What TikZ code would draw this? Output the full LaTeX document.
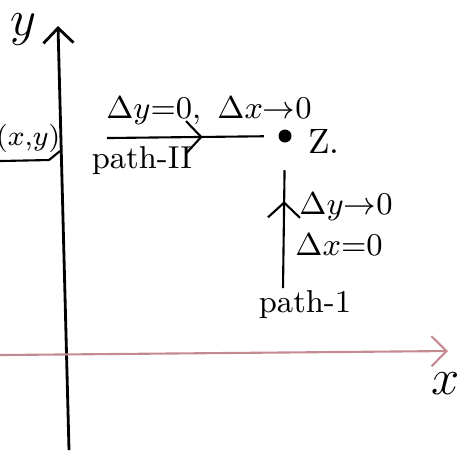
\documentclass[tikz,border=0pt]{standalone}
\usepackage{amsmath, amssymb}
\usepackage{xcolor}
\definecolor{axisPink}{HTML}{C48A92}
\usepackage{tikz}
\usetikzlibrary{arrows.meta, positioning, decorations.markings}

\begin{document}
\begin{tikzpicture}[
  x=0.01cm, y=-0.01cm,
  axis/.style={thick, -{Straight Barb[length=1.5mm, width=3mm]}},
  pathline/.style={semithick, postaction={decorate},
    decoration={markings, mark=at position #1 with {\arrow{Straight Barb[length=1.5mm, width=3.2mm]}}}},
  pt/.style={circle, fill, inner sep=0pt, minimum size=1.3mm},
  lbl/.style={inner sep=1pt, font=\small},
]
  \useasboundingbox (0,0) rectangle (462,450);

  % axes
  \coordinate (ybot) at (69,450);
  \coordinate (ytop) at (58,26);
  \coordinate (xleft) at (0,355);
  \coordinate (xright) at (448,351);
  \draw[axis] (ybot) -- (ytop);
  \draw[axis, semithick, draw=axisPink] (xleft) -- (xright);
  \node[lbl, font=\Large] (ylab) at (23,30) {$y$};
  \node[lbl, font=\Large] (xlab) at (446,384) {$x$};

  % point (x,y) on the left
  \node[lbl, font=\footnotesize, inner sep=0pt, anchor=east] (xy) at (61,138) {$(x,\!y)$};
  \coordinate (xyleft) at (0,161);
  \coordinate (xyfoot) at (49,160);
  \coordinate (xyaxis) at (60,151);
  \draw[semithick] (xyleft) -- (xyfoot) -- (xyaxis);

  % the point z0 and the two paths
  \node[pt] (z0) at (285,136) {};
  \node[lbl, font=\normalsize, right=0.12cm of z0, yshift=-0.05cm] (zlab) {Z.};

  \coordinate (p2start) at (107,138);
  \draw[pathline=0.56, shorten >=0.14cm] (p2start) -- (z0);
  \node[lbl] (p2cond) at (209,111) {$\Delta y{=}0,\ \Delta x{\to}0$};
  \node[lbl] (p2name) at (142,161) {path-II};

  \coordinate (p1start) at (283,288);
  \draw[pathline=0.6, shorten >=0.27cm] (p1start) -- (z0);
  \node[lbl] (p1cond1) at (346,207) {$\Delta y{\to}0$};
  \node[lbl] (p1cond2) at (339,245) {$\Delta x{=}0$};
  \node[lbl] (p1name) at (305,305) {path-1};
\end{tikzpicture}
\end{document}
